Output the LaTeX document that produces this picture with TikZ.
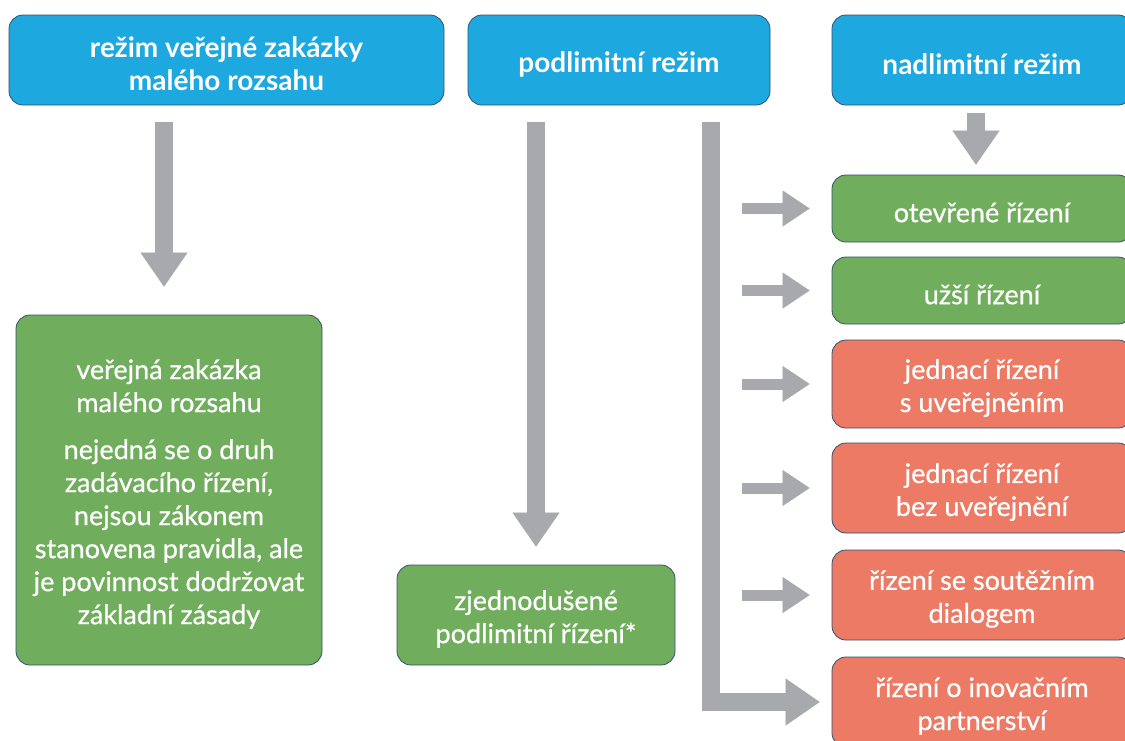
\documentclass[tikz,border=0pt]{standalone}
\usepackage{fontspec}
\setmainfont{Lato}
\newfontfamily\medfont{Lato}[FakeBold=0.7]
\usetikzlibrary{arrows.meta}
\definecolor{hblue}{RGB}{30,168,224}
\definecolor{hgreen}{RGB}{112,173,92}
\definecolor{hred}{RGB}{236,122,100}
\definecolor{agray}{RGB}{167,169,172}
\definecolor{bordc}{RGB}{50,82,112}
\begin{document}
\begin{tikzpicture}[x=1pt,y=-1pt,
  box/.style={draw=bordc, line width=0.8pt, rounded corners=14pt, inner sep=0pt},
  txt/.style={text=white, align=center, inner sep=0pt, yshift=-4pt},
  htxt/.style={txt, font=\bfseries\fontsize{28}{33}\selectfont},
  btxt/.style={txt, font=\medfont\fontsize{27}{33}\selectfont},
  head/.style={box, fill=hblue, minimum height=90pt, label={[htxt]center:#1}},
  gbox/.style={box, fill=hgreen, label={[btxt]center:#1}},
  rbox/.style={box, fill=hred, minimum width=300pt, label={[btxt]center:#1}},
  bigarrow/.style={draw=agray, line width=18pt, line join=miter, -{Triangle[width=47pt,length=34pt,line width=0.01pt]}},
  smallarrow/.style={draw=agray, line width=11pt, -{Triangle[width=36pt,length=27pt,line width=0.01pt]}}]
\useasboundingbox (0,0) rectangle (1125,740);
\clip (0,0) rectangle (1125,740);
\fill[white] (0,0) rectangle (1125,740);

% headers
\node[head={režim veřejné zakázky\\malého rozsahu}, minimum width=435pt] (b1) at (226.5,60) {};
\node[head={podlimitní režim}, minimum width=302pt] (b2) at (619,60) {};
\node[head={nadlimitní režim}, minimum width=300pt] (b3) at (982,60) {};

% left column
\node[gbox={veřejná zakázka\\malého rozsahu\\[14pt]nejedná se o druh\\zadávacího řízení,\\nejsou zákonem\\stanovena pravidla, ale\\je povinnost dodržovat\\základní zásady},
  minimum width=306pt, minimum height=350pt] (g1) at (169,490) {};

% middle
\node[gbox={zjednodušené\\podlimitní řízení*}, minimum width=278pt, minimum height=100pt] (zj) at (536,615) {};

% right column
\node[rbox={otevřené řízení}, fill=hgreen, minimum height=67pt] (r1) at (982,208.5) {};
\node[rbox={užší řízení}, fill=hgreen, minimum height=67pt] (r2) at (982,290.5) {};
\node[rbox={jednací řízení\\s uveřejněním}, minimum height=88pt] (r3) at (982,384) {};
\node[rbox={jednací řízení\\bez uveřejnění}, minimum height=90pt] (r4) at (982,488) {};
\node[rbox={řízení se soutěžním\\dialogem}, minimum height=90pt] (r5) at (982,595) {};
\node[rbox={řízení o inovačním\\partnerství}, minimum height=90pt] (r6) at (982,702) {};

% arrows
\draw[bigarrow, shorten <=17pt, shorten >=28pt] ([xshift=-5pt]g1.north |- b1.south) -- ([xshift=-5pt]g1.north);
\draw[bigarrow, shorten <=17pt, shorten >=18pt] (zj.north |- b2.south) -- (zj.north);
\coordinate (tx) at (711,0);
\draw[bigarrow, shorten <=17pt, shorten >=12pt] (b2.south -| tx) |- (r6.west);
\draw[bigarrow, shorten <=8pt, shorten >=10pt] ([xshift=-6pt]b3.south) -- ([xshift=-6pt]r1.north);
\coordinate (sx) at (742,0);
\foreach \r in {r1,r2,r3,r4,r5}
  \draw[smallarrow, shorten >=22pt] (\r.west -| sx) -- (\r.west);
\end{tikzpicture}
\end{document}
